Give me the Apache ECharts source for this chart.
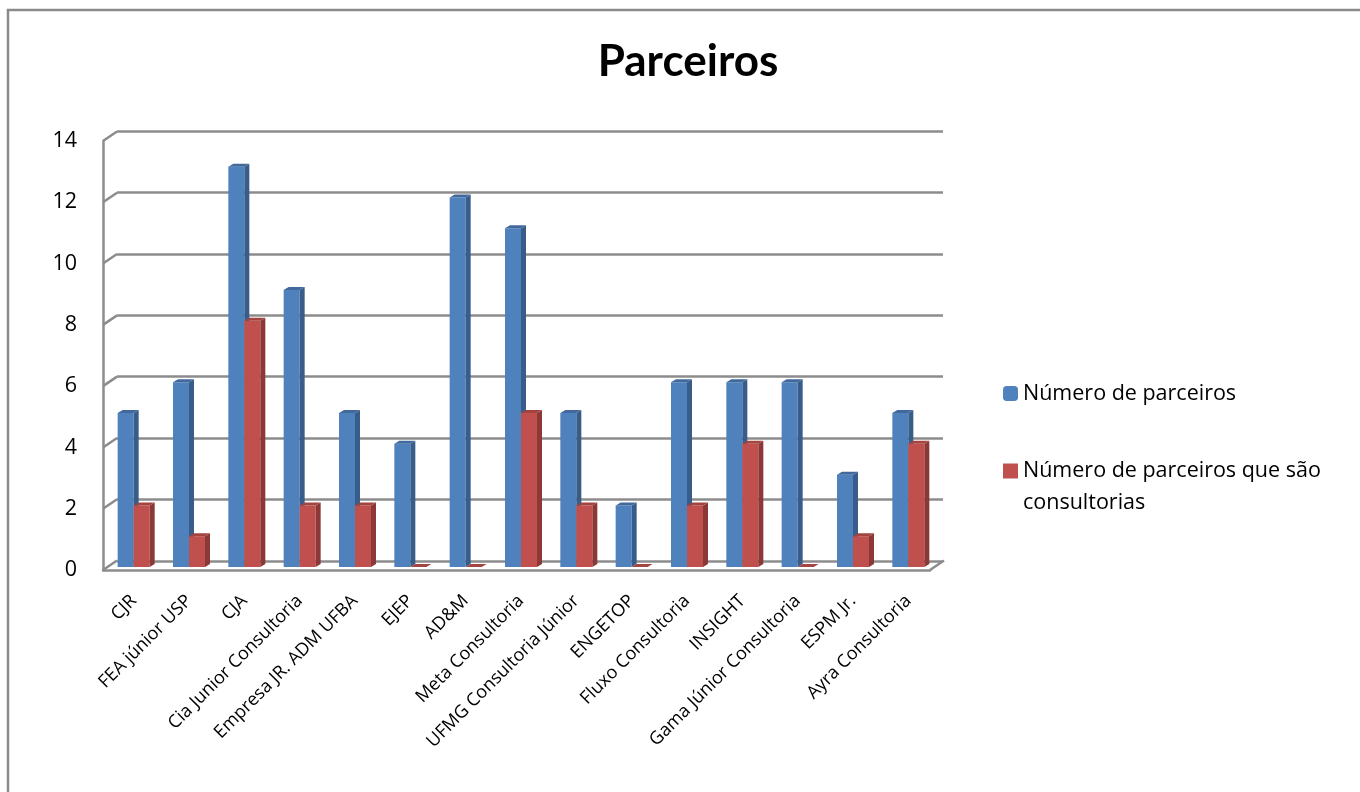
<!DOCTYPE html>
<html>
<head>
<meta charset="utf-8">
<script src="https://cdn.jsdelivr.net/npm/echarts@6/dist/echarts.min.js"></script>
<style>html,body{margin:0;padding:0;background:#fff;}#c{width:1360px;height:792px;}</style>
</head>
<body>
<div id="c"></div>
<script>
const categories = ['CJR','FEA júnior USP','CJA','Cia Junior Consultoria','Empresa JR. ADM UFBA','EJEP','AD&M','Meta Consultoria','UFMG Consultoria Júnior','ENGETOP','Fluxo Consultoria','INSIGHT','Gama Júnior Consultoria','ESPM Jr.','Ayra Consultoria'];
const numeroParceiros = [5,6,13,9,5,4,12,11,5,2,6,6,6,3,5];
const parceirosConsultorias = [2,1,8,2,2,0,0,5,2,0,2,4,0,1,4];
const yTicks = [0,2,4,6,8,10,12,14];
const seriesNames = ['Número de parceiros','Número de parceiros que são consultorias'];

const BW = 16, DX = 5, DY = 3;
const GRAY = '#8c8c8c';
const FONT = 'Open Sans';

function deco(k, side, top) {
  return function (params, api) {
    const i = api.value(0), v = api.value(1);
    const p = api.coord([i, v]);
    const p0 = api.coord([i, 0]);
    const x0 = p[0] + (k === 0 ? -BW : 0);
    const x1 = x0 + BW;
    return {
      type: 'group',
      children: [
        {type: 'polygon', shape: {points: [[x1, p[1]], [x1 + DX, p[1] - DY], [x1 + DX, p0[1] - DY], [x1, p0[1]]]}, style: {fill: side}},
        {type: 'polygon', shape: {points: [[x0, p[1]], [x0 + DX, p[1] - DY], [x1 + DX, p[1] - DY], [x1, p[1]]]}, style: {fill: top}}
      ]
    };
  };
}

const chart = echarts.init(document.getElementById('c'));
chart.setOption({
  animation: false,
  backgroundColor: '#fff',
  title: {
    text: 'Parceiros', left: 688, top: 40, textAlign: 'center', padding: 0,
    textStyle: {fontFamily: 'Lato', fontWeight: 'bold', fontSize: 44, color: '#000'}
  },
  graphic: [{type: 'rect', shape: {x: 8, y: 10, width: 1500, height: 900}, style: {fill: 'none', stroke: '#8a8a8a', lineWidth: 2.5}, silent: true}],
  legend: [
    {data: [seriesNames[0]], orient: 'vertical', left: 1003, top: 382.5, padding: 0, itemWidth: 15, itemHeight: 15,
     textStyle: {fontFamily: FONT, fontSize: 21.5, color: '#000'}},
    {data: [{name: seriesNames[1], icon: 'path://M0,0h0.01v0.01h-0.01zM0,8.5h15v15h-15zM14.99,63.99h0.01v0.01h-0.01z'}],
     orient: 'vertical', left: 1003, top: 455, padding: 0, itemWidth: 15, itemHeight: 64,
     formatter: function () { return 'Número de parceiros que são\nconsultorias'; },
     textStyle: {fontFamily: FONT, fontSize: 21.5, lineHeight: 32, color: '#000'}}
  ],
  grid: [
    {left: 106, width: 830, top: 136, bottom: 225},
    {left: 103, right: 430, top: 141, bottom: 222},
    {left: 117, right: 417, top: 131, bottom: 231}
  ],
  xAxis: [
    {type: 'category', gridIndex: 0, data: categories, axisLine: {show: false}, axisTick: {show: false},
     axisLabel: {rotate: 45, interval: 0, margin: 31, fontFamily: FONT, fontSize: 18, color: '#000'}},
    {type: 'value', gridIndex: 1, min: 0, max: 1, axisLine: {show: true, onZero: false, lineStyle: {color: GRAY, width: 2.5}},
     axisTick: {show: false}, axisLabel: {show: false}, splitLine: {show: false}},
    {type: 'value', gridIndex: 2, min: 0, max: 1, show: false}
  ],
  yAxis: [
    {type: 'value', gridIndex: 0, min: 0, max: 14, interval: 2, show: false},
    {type: 'value', gridIndex: 1, min: 0, max: 14, interval: 2,
     axisLine: {show: true, lineStyle: {color: GRAY, width: 2.5}}, axisTick: {show: false}, splitLine: {show: false},
     axisLabel: {margin: 26, padding: [6, 0, 0, 0], fontFamily: FONT, fontSize: 21.5, color: '#000'}},
    {type: 'value', gridIndex: 2, min: 0, max: 14, interval: 2, axisLine: {show: false}, axisTick: {show: false},
     axisLabel: {show: false}, splitLine: {show: true, lineStyle: {color: GRAY, width: 2.5}}}
  ],
  series: [
    {name: seriesNames[0], type: 'bar', xAxisIndex: 0, yAxisIndex: 0, data: numeroParceiros, barWidth: BW, barGap: '0%', z: 3,
     itemStyle: {color: '#4f81bd'}},
    {name: seriesNames[0] + ' 3d', type: 'custom', xAxisIndex: 0, yAxisIndex: 0, z: 4, silent: true,
     data: numeroParceiros.map((v, i) => [i, v]), renderItem: deco(0, '#385d8a', '#41699c')},
    {name: seriesNames[1], type: 'bar', xAxisIndex: 0, yAxisIndex: 0, data: parceirosConsultorias, barWidth: BW, barGap: '0%', z: 5,
     itemStyle: {color: '#c0504d'}},
    {name: seriesNames[1] + ' 3d', type: 'custom', xAxisIndex: 0, yAxisIndex: 0, z: 6, silent: true,
     data: parceirosConsultorias.map((v, i) => [i, v]), renderItem: deco(1, '#8c3836', '#a34441')},
    {name: 'edges', type: 'custom', xAxisIndex: 1, yAxisIndex: 1, z: 1, silent: true,
     data: yTicks.map(v => [0, v]).concat([[1, 0]]),
     renderItem: function (params, api) {
       const p = api.coord([api.value(0), api.value(1)]);
       return {type: 'line', shape: {x1: p[0], y1: p[1], x2: p[0] + 14, y2: p[1] - 9.5}, style: {stroke: GRAY, lineWidth: 2.5}};
     }}
  ]
});
</script>
</body>
</html>
